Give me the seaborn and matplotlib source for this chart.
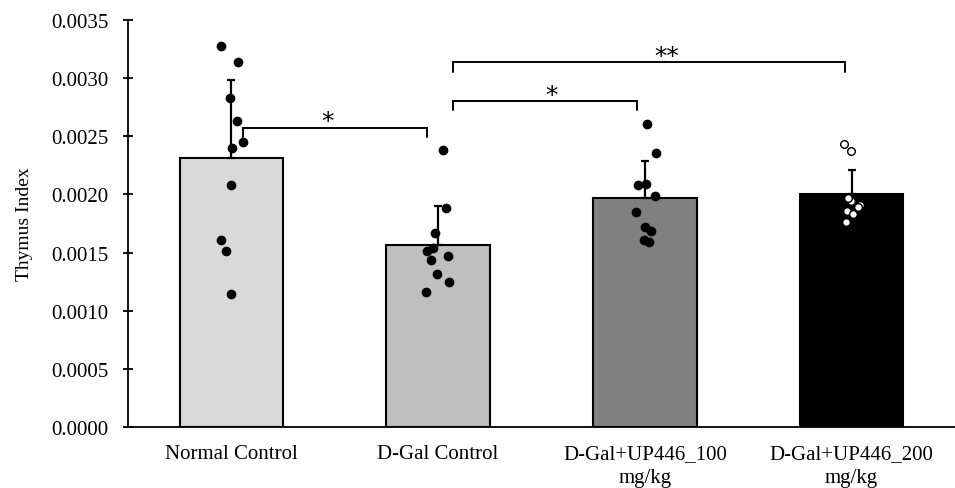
import numpy as np
import pandas as pd
import matplotlib
matplotlib.use("Agg")
import matplotlib.pyplot as plt
import seaborn as sns

# ---------------- data ----------------
categories = ["Normal Control", "D-Gal Control",
              "D-Gal+UP446_100\nmg/kg", "D-Gal+UP446_200\nmg/kg"]
means = [0.002311, 0.001565, 0.001969, 0.002004]
sds = [0.000676, 0.000333, 0.000316, 0.000206]

normal_pts = [0.00328, 0.00314, 0.00283, 0.00263, 0.00245, 0.00240,
              0.00208, 0.00161, 0.00151, 0.00114]
dgal_pts = [0.00238, 0.00188, 0.00167, 0.00151, 0.00154, 0.00147,
            0.00144, 0.00132, 0.00125, 0.00116]
up100_pts = [0.00261, 0.00236, 0.00208, 0.00209, 0.00199, 0.00185,
             0.00172, 0.00169, 0.00159, 0.00161]
up200_pts = [0.00243, 0.00237, 0.00197, 0.00194, 0.00197, 0.00191,
             0.00189, 0.00186, 0.00183, 0.00176]

yticks = [0.0, 0.0005, 0.0010, 0.0015, 0.0020, 0.0025, 0.0030, 0.0035]
sig_labels = ["*", "*", "**"]

# ---------------- style ----------------
bar_colors = ["#d9d9d9", "#bfbfbf", "#808080", "#000000"]

sns.set_theme(style="ticks")
plt.rcParams["font.family"] = ["Liberation Serif", "DejaVu Serif"]

fig = plt.figure(figsize=(9.55, 4.89), dpi=100)
ax = fig.add_axes([0.134, 0.1247, 0.866, 0.8323])

bar_df = pd.DataFrame({"group": categories, "mean": means})
sns.barplot(data=bar_df, x="group", y="mean", order=categories, hue="group",
            hue_order=categories, palette=bar_colors, width=0.5,
            edgecolor="black", linewidth=1.5, errorbar=None, legend=False,
            saturation=1, ax=ax, zorder=2)

ax.errorbar(np.arange(len(categories)), means,
            yerr=[np.zeros(len(sds)), sds], fmt="none", ecolor="black",
            elinewidth=1.6, capsize=3, capthick=1.6, zorder=3)

pts_df = pd.DataFrame({
    "group": [categories[0]] * len(normal_pts) + [categories[1]] * len(dgal_pts)
             + [categories[2]] * len(up100_pts) + [categories[3]] * len(up200_pts),
    "value": normal_pts + dgal_pts + up100_pts + up200_pts,
})

np.random.seed(7)
sns.stripplot(data=pts_df[pts_df["group"] != categories[3]], x="group", y="value",
              order=categories, color="black", size=7, jitter=0.06,
              ax=ax, zorder=4)
sns.stripplot(data=pts_df[pts_df["group"] == categories[3]], x="group", y="value",
              order=categories, color="white", edgecolor="black", linewidth=1.0,
              size=5.5, jitter=0.06, ax=ax, zorder=4)

# significance brackets (x1, x2, y, y_drop, x_text, y_text baseline)
brackets = [
    (0.055, 0.947, 0.002569, 0.002494, 0.463, 0.002569),
    (1.071, 1.961, 0.002806, 0.002729, 1.549, 0.002792),
    (1.071, 2.966, 0.003136, 0.003050, 2.105, 0.003128),
]
for (x1, x2, y, yd, xt, yt), lab in zip(brackets, sig_labels):
    ax.plot([x1, x1, x2, x2], [yd, y, y, yd], color="black", lw=1.4,
            solid_joinstyle="miter", zorder=5)
    ax.text(xt, yt, lab, ha="center", va="baseline", fontsize=18,
            family=["DejaVu Sans"], color="black")

ax.set_xlim(-0.5, 3.5)
ax.set_ylim(0, 0.0035)
ax.set_yticks(yticks)
ax.set_yticklabels([f"{v:.4f}" for v in yticks])
ax.set_xlabel("")
ax.set_ylabel("Thymus Index", fontsize=14, color="black", labelpad=13)

for side in ["top", "right"]:
    ax.spines[side].set_visible(False)
for side in ["left", "bottom"]:
    ax.spines[side].set_color("black")
    ax.spines[side].set_linewidth(1.3)

ax.tick_params(axis="y", direction="inout", length=6.5, width=1.3,
               colors="black", labelsize=15, pad=11)
ax.tick_params(axis="x", length=0, colors="black", labelsize=15, pad=12)
for lab in ax.get_xticklabels():
    lab.set_linespacing(1.4)

fig.savefig("out.png", dpi=100)
